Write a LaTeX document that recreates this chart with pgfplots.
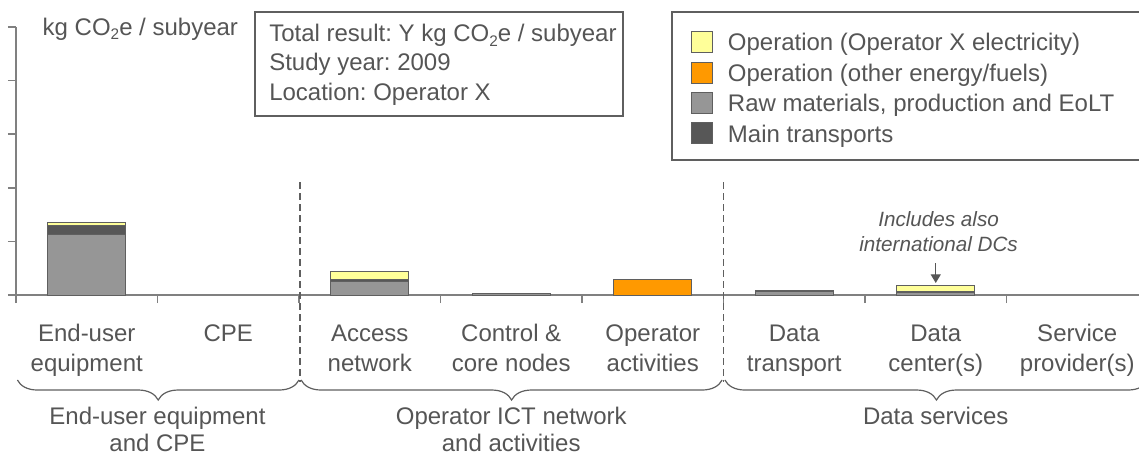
\documentclass[border=0pt]{standalone}
\usepackage{fontspec}
\setmainfont{Liberation Sans}
\usepackage{pgfplots}
\usepackage{pgfplotstable}
\pgfplotsset{compat=1.18}
\usetikzlibrary{decorations.pathreplacing, arrows.meta}
\definecolor{cyellow}{HTML}{FFFF99}
\definecolor{corange}{HTML}{FF9900}
\definecolor{cgray}{HTML}{969696}
\definecolor{cdark}{HTML}{575757}
\definecolor{outl}{HTML}{5F5F5F}
\definecolor{axgray}{HTML}{808080}
\definecolor{txt}{HTML}{555555}
\frenchspacing
\newcommand{\sub}[1]{\raisebox{-3.4pt}{\fontsize{11.5}{12}\selectfont #1}}

\pgfplotstableread{
x gray dark orange yellow
0 1.13 0.17 0    0.05
1 0    0    0    0
2 0.26 0.03 0    0.14
3 0.03 0    0    0
4 0    0    0.28 0
5 0.06 0.02 0    0
6 0.04 0.02 0    0.11
7 0    0    0    0
}\datatable

\pgfplotsset{sqleg/.style={legend image code/.code={\draw[##1] (0pt,-7.875pt) rectangle (15.75pt,7.875pt);}}}

\begin{document}
\begin{tikzpicture}[font=\fontsize{18}{22}\selectfont, text=txt]
\begin{axis}[
  at={(12pt,120pt)}, anchor=south west,
  scale only axis, width=849pt, height=201pt,
  xmin=-0.5, xmax=7.5, ymin=0, ymax=5,
  axis lines*=left,
  axis line style={draw=axgray, line width=1.1pt},
  tick align=outside, major tick length=6pt,
  tick style={draw=axgray, line width=1.1pt},
  xtick={-0.5,0.5,...,7.5},
  x tick label as interval,
  xticklabels={End-user\\equipment, CPE, Access\\network, Control \&\\core nodes, Operator\\activities, Data\\transport, Data\\center(s), Service\\provider(s)},
  xticklabel style={align=center, text=txt, font=\fontsize{18}{22.5}\selectfont, inner sep=0pt, anchor=north, yshift=-16pt},
  ytick={0,1,...,5}, yticklabels={},
  ybar stacked, bar width=0.55,
  clip=false,
  legend style={draw=none, fill=none, at={(0.5963,0.9858)}, anchor=north west, inner sep=0pt, row sep=6.35pt,
    nodes={inner sep=0pt, text height=13pt, text depth=0pt, text=txt, font=\fontsize{18}{22}\selectfont},
    /tikz/every odd column/.append style={column sep=11pt}},
  legend cell align=left,
]
\addlegendimage{sqleg, fill=cyellow, draw=outl, line width=0.75pt}
\addlegendentry{Operation (Operator X electricity)}
\addlegendimage{sqleg, fill=corange, draw=outl, line width=0.75pt}
\addlegendentry{Operation (other energy/fuels)}
\addlegendimage{sqleg, fill=cgray, draw=outl, line width=0.75pt}
\addlegendentry{Raw materials, production and EoLT}
\addlegendimage{sqleg, fill=cdark, draw=outl, line width=0.75pt}
\addlegendentry{Main transports}

\addplot[fill=cgray, draw=outl, line width=0.75pt] table[x=x, y=gray] {\datatable};
\addplot[fill=cdark, draw=outl, line width=0.75pt] table[x=x, y=dark] {\datatable};
\addplot[fill=corange, draw=outl, line width=0.75pt] table[x=x, y=orange] {\datatable};
\addplot[fill=cyellow, draw=outl, line width=0.75pt] table[x=x, y=yellow] {\datatable};

% dashed separators
\draw[draw=outl, line width=1pt, dash pattern=on 5.25pt off 3pt] (axis cs:1.507,2.108) -- (axis cs:1.507,-1.62);
\draw[draw=outl, line width=1pt, dash pattern=on 5.25pt off 3pt] (axis cs:4.5,2.108) -- (axis cs:4.5,-1.62);

% braces
\draw[decorate, decoration={brace, mirror, amplitude=15pt}, draw=outl, line width=0.9pt] (axis cs:-0.49,-1.586) -- (axis cs:1.5,-1.586);
\draw[decorate, decoration={brace, mirror, amplitude=15pt}, draw=outl, line width=0.9pt] (axis cs:1.515,-1.586) -- (axis cs:4.49,-1.586);
\draw[decorate, decoration={brace, mirror, amplitude=15pt}, draw=outl, line width=0.9pt] (axis cs:4.51,-1.586) -- (axis cs:7.5,-1.586);

% group labels
\node[anchor=base, inner sep=0pt] at (axis cs:0.5,-2.407) {End-user equipment};
\node[anchor=base, inner sep=0pt] at (axis cs:0.5,-2.925) {and CPE};
\node[anchor=base, inner sep=0pt] at (axis cs:3,-2.407) {Operator ICT network};
\node[anchor=base, inner sep=0pt] at (axis cs:3,-2.925) {and activities};
\node[anchor=base, inner sep=0pt] at (axis cs:6,-2.407) {Data services};

% annotation
\node[anchor=base, font=\fontsize{15.5}{18}\selectfont\itshape] at (axis cs:6.02,1.269) {Includes also};
\node[anchor=base, font=\fontsize{15.5}{18}\selectfont\itshape] at (axis cs:6.02,0.8116) {international DCs};
\draw[draw=cdark, line width=1pt, -{Triangle[width=7.5pt,length=6.5pt]}] (axis cs:6.0,0.597) -- (axis cs:6.0,0.224);
\end{axis}

% y unit label
\node[anchor=base west] at (28.5pt,315pt) {kg CO\sub{2}e / subyear};

% info box
\draw[draw=outl, line width=1pt] (191.25pt,332.25pt) rectangle (467.25pt,254.25pt);
\node[anchor=base west, inner sep=0pt] at (201.75pt,310pt) {Total result: Y kg CO\sub{2}e / subyear};
\node[anchor=base west, inner sep=0pt] at (201.75pt,288.25pt) {Study year: 2009};
\node[anchor=base west, inner sep=0pt] at (201.75pt,266.25pt) {Location: Operator X};

% legend frame
\draw[draw=outl, line width=1pt] (504pt,332.25pt) rectangle (858.75pt,221.25pt);

\pgfresetboundingbox
\path[use as bounding box] (0pt,0pt) rectangle (854.25pt,341.25pt);
\end{tikzpicture}
\end{document}
